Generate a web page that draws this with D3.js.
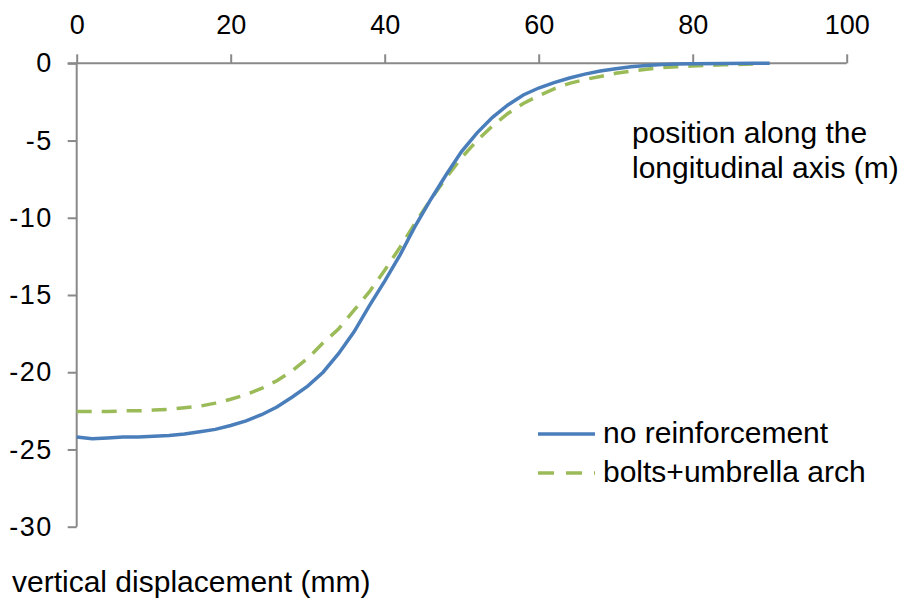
<!DOCTYPE html>
<html><head><meta charset="utf-8">
<script src="https://cdn.jsdelivr.net/npm/d3@7"></script>
<style>body{margin:0;background:#fff}svg{display:block}text{font-family:"Liberation Sans",Arial,sans-serif;fill:#000}</style>
</head><body><svg id="c" width="904" height="607"></svg>
<script>
const positions = [0,2,4,6,8,10,12,14,16,18,20,22,24,26,28,30,32,34,36,38,40,42,44,46,48,50,52,54,56,58,60,62,64,66,68,70,72,74,76,78,80,84,88,90];
const noReinforcement = [-24.2,-24.3,-24.25,-24.2,-24.2,-24.15,-24.1,-24.0,-23.85,-23.7,-23.45,-23.15,-22.75,-22.25,-21.6,-20.9,-20.0,-18.8,-17.4,-15.7,-14.1,-12.4,-10.5,-8.8,-7.2,-5.7,-4.5,-3.5,-2.7,-2.05,-1.6,-1.25,-0.95,-0.7,-0.5,-0.35,-0.22,-0.14,-0.08,-0.05,-0.03,-0.01,0,0];
const boltsPositions = [0,2,4,6,8,10,12,14,16,18,20,22,24,26,28,30,32,34,36,38,40,42,44,46,48,50,52,54,56,58,60,62,64,66,68,70,72,74,76,78,80,84,88];
const boltsUmbrella = [-22.55,-22.55,-22.55,-22.5,-22.5,-22.45,-22.4,-22.3,-22.2,-22.0,-21.75,-21.45,-21.05,-20.55,-19.9,-19.1,-18.1,-17.2,-16.0,-14.8,-13.4,-11.9,-10.3,-8.8,-7.4,-6.1,-5.0,-4.05,-3.25,-2.6,-2.1,-1.65,-1.3,-1.05,-0.85,-0.65,-0.5,-0.38,-0.28,-0.22,-0.17,-0.1,-0.05];
const xTicks = [0,20,40,60,80,100];
const yTicks = [0,-5,-10,-15,-20,-25,-30];
const seriesNames = ["no reinforcement","bolts+umbrella arch"];
const xTitle = ["position along the","longitudinal axis (m)"];
const yTitle = "vertical displacement (mm)";

const svg = d3.select("#c");
const x = d3.scaleLinear().domain([0,100]).range([76.7,846.7]);
const y = d3.scaleLinear().domain([0,-30]).range([63.3,526.7]);
const axisColor = "#898989";
const fsTick = 27, fsBig = 30;

// x axis (top)
const xa = svg.append("g").attr("transform",`translate(0,${y(0)})`)
  .call(d3.axisTop(x).tickValues(xTicks).tickSize(9).tickSizeOuter(0).tickPadding(20).tickFormat(d3.format("d")));
xa.select(".domain").remove();
xa.selectAll(".tick line").attr("stroke",axisColor).attr("stroke-width",2);
xa.selectAll(".tick text").attr("font-size",fsTick).attr("font-family","Liberation Sans, Arial, sans-serif").attr("fill","#000");
svg.append("line").attr("x1",x(0)-9).attr("x2",x(100)).attr("y1",y(0)).attr("y2",y(0)).attr("stroke",axisColor).attr("stroke-width",2);

// y axis
const ya = svg.append("g").attr("transform",`translate(${x(0)},0)`)
  .call(d3.axisLeft(y).tickValues(yTicks).tickSize(9).tickSizeOuter(0).tickPadding(15).tickFormat(d=>d===0?"0":String(d)));
ya.select(".domain").remove();
ya.selectAll(".tick line").attr("stroke",axisColor).attr("stroke-width",2);
ya.selectAll(".tick text").attr("font-size",fsTick).attr("font-family","Liberation Sans, Arial, sans-serif").attr("fill","#000").attr("letter-spacing","1.5px");
svg.append("line").attr("x1",x(0)).attr("x2",x(0)).attr("y1",y(0)).attr("y2",y(-30)).attr("stroke",axisColor).attr("stroke-width",2);

const line = d3.line().x(d=>x(d[0])).y(d=>y(d[1]));
svg.append("path").datum(boltsPositions.map((p,i)=>[p,boltsUmbrella[i]]))
  .attr("d",line).attr("fill","none").attr("stroke","#9BBB59").attr("stroke-width",3.5).attr("stroke-dasharray","15,10");
svg.append("path").datum(positions.map((p,i)=>[p,noReinforcement[i]]))
  .attr("d",line).attr("fill","none").attr("stroke","#4A7EBB").attr("stroke-width",3.5);

// legend
const lg = svg.append("g");
lg.append("line").attr("x1",538).attr("x2",595).attr("y1",434).attr("y2",434).attr("stroke","#4A7EBB").attr("stroke-width",3.5);
lg.append("text").attr("x",603).attr("y",443).attr("font-size",fsBig).text(seriesNames[0]);
lg.append("line").attr("x1",538).attr("x2",595).attr("y1",473).attr("y2",473).attr("stroke","#9BBB59").attr("stroke-width",3.5).attr("stroke-dasharray","16,12");
lg.append("text").attr("x",603).attr("y",482).attr("font-size",fsBig).text(seriesNames[1]);

// titles
svg.append("text").attr("x",632).attr("y",143).attr("font-size",fsBig).text(xTitle[0]);
svg.append("text").attr("x",632).attr("y",178).attr("font-size",fsBig).text(xTitle[1]);
svg.append("text").attr("x",12).attr("y",592).attr("font-size",fsBig).text(yTitle);
</script></body></html>
